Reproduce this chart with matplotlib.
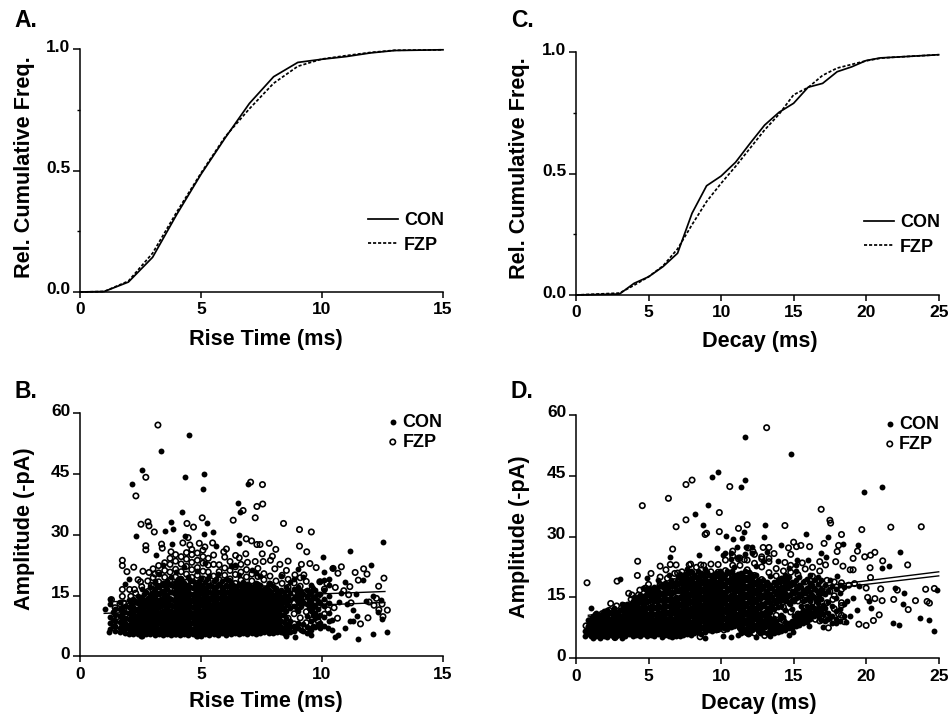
import matplotlib
matplotlib.use("Agg")
import matplotlib.pyplot as plt
from matplotlib.transforms import ScaledTranslation

plt.rcParams['font.family'] = ['Liberation Sans', 'DejaVu Sans']
plt.rcParams['font.weight'] = 'bold'

W, H = 949, 715

rise_x = [0, 1, 2, 3, 4, 5, 6, 7, 8, 9, 10, 11, 12, 13, 15]
rise_con = [0, .002, .041, .143, .32, .485, .635, .777, .887, .946, .959, .97, .985, .995, .998]
rise_fzp = [0, .002, .045, .16, .33, .49, .64, .755, .86, .93, .96, .974, .987, .996, .998]

decay_x = [0, 3, 4, 5, 6, 7, 8, 9, 10, 11, 12, 13, 14, 15, 16, 17, 18, 19, 20, 21, 22, 25]
decay_con = [0, .004, .048, .075, .117, .172, .337, .45, .49, .547, .625, .70, .753, .79, .856, .872, .92, .94, .966, .977, .98, .99]
decay_fzp = [0, .008, .04, .075, .12, .19, .29, .385, .46, .53, .605, .68, .745, .825, .855, .905, .935, .95, .965, .976, .98, .99]

# Panel B, isolated points read one by one (rise ms, amplitude)
con_b_sparse = [(4.51,54.7),(3.36,50.7),(2.56,46),(2.13,42.5),(4.33,44.3),(5.12,44.9),(5.1,41.2),(6.94,42.5),
 (6.52,37.9),(6.63,35.7),(4.2,35.6),(3.77,33.2),(3.83,31.5),(3.5,31),(5.24,32.9),(2.31,29.7),(4.33,29.8),
 (5.12,30.2),(5.48,30.7),(6.55,30),(6.55,28),(3.8,27.8),(5.64,27.2),(3.12,25),(10.05,24.6),(11.17,26),
 (12.54,28.2),(12.04,22.5),(11.49,4.3),(12.12,5.4),(12.7,6.1),(10.53,4.7),(10.66,5.3),(10.94,6.9),(11.15,8.6),
 (10.1,20.9),(10.94,18.4),(1.03,11.6),(1.21,6.1),(2.52,5),(10.4,21.8),(11.4,15.3),(11.7,18.8),(12.1,15),
 (12.5,9.2),(12.3,11),(11.3,11.5),(11.05,13),(10.4,9),(10.25,7),(10.4,6.5),(9.55,5.2),(8.9,4.8),(8.5,5),
 (11.3,8.8),(11.45,10),(10.8,15.7),(10.3,17.7),(10.7,13.5),(11.8,13.6),(12.45,13.8)]
fzp_b_sparse = [(3.22,57.1),(2.72,44.2),(2.31,39.6),(7.05,43),(7.54,42.4),(7.55,37.6),(7.31,37),(6.74,36),(7.24,34.2),
 (6.33,33.6),(8.41,32.8),(9.07,31.3),(9.56,30.7),(9.07,27.2),(9.37,25.8),(9.5,22.9),(9.76,21.9),(5.05,34.2),
 (4.42,32.8),(4.69,31.9),(2.52,32.6),(2.81,33.2),(2.85,32.2),(3.07,30.7),(2.72,27.3),(2.72,26.3),(3.37,27.7),
 (3.4,26.7),(3.76,25.8),(1.75,23.7),(1.75,22.4),(2.22,22),(1.94,20.9),(4.25,28),(4.47,29.3),(4.54,27.5),(4.93,27.9),
 (5.16,27),(5.48,28),(5.94,25.8),(6.05,26.5),(6.87,29),(7.09,28.5),(7.31,27.6),(7.44,27.6),(7.82,27.9),(8.09,26.4),
 (7.53,25.3),(7.95,24.7),(6.85,25.3),(6.43,24.9),(6.58,24.3),(6.92,23.2),(7.24,23.4),(7.57,23.4),(7.87,23.7),(8.26,22.7),
 (8.6,23.5),(9.15,22.7),(8.05,21.6),(8.53,21.2),(8.88,20.1),(9.25,20.1),(9.91,18.4),(10.46,21.7),(10.8,22.1),(10.66,20.5),
 (11.15,17.2),(11.37,20.7),(11.72,21.6),(11.86,20.3),(12.34,17.3),(12.56,19.3),(12.25,14.3),(12.48,12.9),(12.7,11.4),
 (12.52,9.8),(11.9,9.5),(11.59,8),(10.64,9.4),(10.2,18),(10.55,17),(10.9,16.2),(11.1,15.2),(11.5,18.8),(11.95,13.4),
 (12.15,12.6),(12.35,11.5),(10.5,12),(10.25,11.5),(11.2,13.2),(1.3,14),(1.75,16.5),(1.75,14.8),(1.65,13),(2.1,14.8),
 (2.4,18.9),(2.6,21),(2.85,20.7),(3.1,20.3),(2.25,16.5),(2.5,18.4),(2.95,17.5),(1.45,12)]

# Panel B, dense cloud estimated by column (rise ms, amplitudes)
con_b_core = [(1.25,[6.8,8.2,9.6,12.8,14.2]),(1.45,[6.2,7.4,8.7,10.2,11.6]),(1.65,[5.9,7.1,8.4,9.9,11.7,13.3]),
 (1.85,[5.7,6.9,8.1,9.5,10.9,12.4,17.9]),(2.02,[5.5,6.7,7.8,9.2,10.6,12.1,13.8,19]),(2.2,[5.6,6.8,8,9.3,10.8,12.2,14.1]),
 (2.38,[5.4,6.5,7.7,9,10.3,11.7,13.2,15]),(2.55,[5,6.3,7.5,8.8,10.1,11.5,13,14.6,16.6]),(2.72,[5.6,6.8,8,9.4,10.8,12.3,13.9,15.8]),
 (2.9,[5.5,6.6,7.8,9.1,10.4,11.8,13.4,15.1,17]),(3.08,[5.3,6.4,7.6,8.9,10.2,11.6,13.1,14.8,16.5,18.7]),
 (3.25,[5.6,6.8,8.1,9.4,10.7,12.2,13.7,15.3,17.2,20.3]),(3.42,[5.2,6.3,7.5,8.7,10,11.3,12.8,14.4,16.1,18,22.6]),
 (3.6,[5.4,6.6,7.9,9.2,10.5,11.9,13.3,14.9,16.7,18.6]),(3.78,[5.2,6.2,7.4,8.6,9.9,11.2,12.6,14.2,15.8,17.6,19.5]),
 (3.95,[5.5,6.7,8,9.3,10.6,12,13.5,15,16.6,18.3,20.7]),(4.12,[5.2,6.3,7.5,8.8,10.1,11.4,12.9,14.4,16,17.8,19.4]),
 (4.3,[5.5,6.6,7.8,9.1,10.4,11.8,13.2,14.7,16.3,18.1,22]),(4.48,[5.2,6.4,7.6,8.9,10.2,11.5,13,14.5,16.1,17.7,19.7]),
 (4.65,[5.6,6.8,8.1,9.4,10.7,12.1,13.6,15.1,16.8,18.5]),(4.82,[5.3,6.4,7.7,9,10.3,11.7,13.1,14.6,16.2,17.9,21]),
 (5,[5.1,6.3,7.5,8.7,10,11.3,12.8,14.2,15.8,17.5,19.3]),(5.18,[5.6,6.8,8,9.2,10.5,11.9,13.4,15,16.6,18.4,23]),
 (5.35,[5.2,6.4,7.6,8.9,10.2,11.6,13,14.5,16,17.7,19.8]),(5.52,[5.6,6.7,8,9.3,10.6,12,13.5,15.1,16.7,18.6]),
 (5.7,[5.3,6.5,7.7,9,10.3,11.6,13,14.4,15.9,17.6,20.4]),(5.88,[5.7,6.9,8.1,9.4,10.7,12.1,13.5,15.1,16.8,18.5]),
 (6.05,[5.2,6.3,7.5,8.8,10.1,11.5,12.9,14.4,16,17.7,19.2]),(6.22,[5.5,6.7,7.9,9.2,10.5,11.9,13.4,14.9,16.5,18.3,22.4]),
 (6.4,[5.8,6.9,8.2,9.5,10.8,12.2,13.7,15.2,16.8,22.6]),(6.58,[5.4,6.6,7.8,9.1,10.4,11.7,13.1,14.6,16.2,17.9,20]),
 (6.75,[5.7,6.9,8.1,9.3,10.6,12,13.5,15,16.6,18.4]),(6.92,[5.5,6.7,8,9.3,10.6,11.9,13.3,14.7,16.3,17.8]),
 (7.1,[5.8,7,8.2,9.5,10.8,12.2,13.6,15.1,16.7,21.4]),(7.28,[5.6,6.8,8.1,9.4,10.7,12,13.4,14.8,16.4,18.1,20.6]),
 (7.45,[5.7,6.9,8.1,9.4,10.6,11.9,13.2,14.6,16.1,17.7,19.8]),(7.62,[5.9,7.1,8.3,9.6,10.9,12.2,13.6,15,16.5]),
 (7.8,[5.7,6.9,8.2,9.4,10.7,12,13.4,14.8,16.3,18.1]),(7.98,[5.8,7,8.3,9.6,10.9,12.3,13.7,15.2,17.3]),
 (8.15,[5.9,7.1,8.4,9.8,11.2,12.7,14.2,15.9]),(8.32,[6.1,7.3,8.7,10.1,11.6,13.1,14.7,16.4,19.8]),
 (8.5,[5.2,6.5,7.8,9.5,11.3,13.2,15,17.1]),(8.68,[6,7.2,8.8,11.9,13.8,15.7,18.3]),(8.85,[6.3,7.6,12.4,14.5,16.7,19]),
 (9.02,[6.9,8.3,11.1,13.3,15.2,17.2,21.6]),(9.2,[6.2,8,13.5,15.4,19.5]),(9.38,[5.8,7.3,9.9,12.8,14.6,16.3]),
 (9.55,[6.5,8.8,11.3,13.4,15.8,17.6]),(9.72,[7.3,9.4,10.6,12.6,14.4,16.4]),(9.9,[7,8.3,10.1,13.2,15.4,18.6]),
 (10.08,[7.4,9.8,12.5,14.1,16.3,18.8]),(10.3,[8.8,10.8,13.1,15,19.2])]
con_b_fill = [(1.35,[7.5,9,10.9]),(1.75,[6.4,7.8,9.1,10.5,12]),(2.1,[6.1,7.3,8.6,10,11.3,13]),(2.3,[6,7.2,8.5,9.7,11.4,13.5]),
 (2.47,[5.8,7,8.2,9.5,10.9,12.4,14]),(2.65,[5.7,6.9,8.2,9.5,10.8,12.2,13.7,15.3]),(2.82,[6.1,7.3,8.6,9.9,11.2,12.7,14.4]),
 (3,[5.9,7.1,8.4,9.7,11,12.5,14.1,15.9]),(3.17,[5.9,7,8.3,9.6,10.9,12.4,14,15.7,17.5]),(3.34,[5.8,7.1,8.4,9.7,11,12.5,14.1,15.8,17.6]),
 (3.52,[5.9,7,8.3,9.6,10.9,12.3,13.9,15.5,17.3]),(3.7,[5.9,7.2,8.5,9.8,11.2,12.7,14.2,15.9,17.8]),(3.87,[5.8,7.1,8.4,9.7,11,12.5,14,15.7,17.4]),
 (4.04,[5.9,7.1,8.4,9.7,11,12.4,14,15.6,17.2,19]),(4.21,[5.7,6.9,8.2,9.5,10.8,12.2,13.7,15.3,16.9,18.7]),(4.39,[5.9,7.1,8.4,9.7,11,12.5,14,15.6,17.2]),
 (4.56,[5.7,7,8.3,9.6,10.9,12.4,13.9,15.4,17.1,18.9]),(4.74,[5.8,7.1,8.4,9.7,11,12.5,14,15.6,17.4]),(4.91,[5.7,7,8.3,9.6,11,12.4,13.8,15.3,16.9,18.7]),
 (5.09,[5.8,7,8.3,9.6,10.9,12.4,13.9,15.4,17.1]),(5.26,[5.8,7.1,8.4,9.7,11.1,12.5,14,15.6,17.2,19]),(5.44,[5.9,7.2,8.5,9.8,11.2,12.7,14.1,15.7,17.4]),
 (5.61,[5.9,7.1,8.4,9.7,11.1,12.5,14,15.5,17.2,19]),(5.79,[6.1,7.3,8.6,9.9,11.3,12.8,14.3,15.9,17.5]),(5.96,[5.8,7,8.3,9.7,11.1,12.5,14,15.5,17.1]),
 (6.14,[5.9,7.1,8.4,9.7,11.1,12.5,14,15.6,17.3,18.9]),(6.31,[6.1,7.3,8.6,9.9,11.3,12.8,14.3,15.8,17.5]),(6.49,[6,7.2,8.5,9.8,11.2,12.7,14.2,15.7,17.3]),
 (6.66,[6.2,7.4,8.7,10,11.4,12.9,14.3,15.8,17.3]),(6.84,[6.1,7.3,8.6,9.9,11.3,12.7,14.2,15.7,17.3]),(7.01,[6.3,7.5,8.8,10.1,11.5,12.9,14.4,15.9,17.4]),
 (7.19,[6.2,7.4,8.7,10,11.4,12.8,14.3,15.8,17.4]),(7.36,[6.3,7.5,8.8,10.1,11.4,12.8,14.2,15.6,17.1]),(7.54,[6.4,7.6,8.9,10.2,11.5,12.9,14.3,15.8]),
 (7.71,[6.3,7.5,8.8,10.1,11.4,12.8,14.2,15.7,17.2]),(7.89,[6.4,7.6,8.9,10.2,11.6,13,14.5,16]),(8.06,[6.5,7.7,9,10.4,11.8,13.3,14.9,16.6]),
 (8.24,[6.7,8,9.3,10.7,12.2,13.8,15.4]),(8.41,[5.8,7,8.4,10.3,12,13.9,15.8]),(8.6,[6.6,8,12.6,14.4,16.3]),(8.95,[7.4,11.8,14,15.9]),(9.12,[6.5,12.4,14.4,16.2]),
 (9.47,[7,11.9,13.8,15.3]),(9.63,[7.6,10.1,12.1,14.7,16.6]),(9.82,[7.9,9.6,11.6,13.6,15.4])]
fzp_b_core = [(1.55,[7.6,9.8]),(1.8,[6.6,8.9,11.6,13.2]),(2.05,[7.3,9.5,12.5,16.5]),(2.3,[6.2,8.8,11.4,13.4,15.6]),
 (2.55,[7.2,9.4,12,14.3,17.2]),(2.8,[6.4,8.7,11.1,13.7,16,18.6]),(3.02,[7,9.6,12.4,15,17.3,19.4,21.6]),
 (3.25,[5.9,8.5,11,13.5,16.2,18.4,20.6,22.4]),(3.5,[7.3,9.9,12.6,15.2,17.7,19.5,21.2,23.1]),
 (3.72,[6.2,8.6,11.4,14,16.6,18.8,20.8,22.7,24.2]),(3.95,[5.5,7.9,10.5,13.1,15.7,17.9,19.6,21.5,23.5,25.1]),
 (4.18,[6.8,9.4,12,14.7,17,19,20.9,22.8,24.6]),(4.4,[5.6,8.2,10.9,13.5,16,18.3,20.3,22.2,24,25.6]),
 (4.62,[7.1,9.7,12.4,15,17.4,19.5,21.4,23.2,25.1,26.4]),(4.85,[5,7.8,10.4,13.1,15.7,18,20,21.9,23.7,25.5]),
 (5.08,[6.4,9.1,11.8,14.4,16.9,19.1,21,23,24.6,26.2]),(5.3,[5.6,8.3,11,13.7,16.2,18.5,20.8,22.5,24.2]),
 (5.52,[7.2,9.9,12.6,15.2,17.6,19.8,22.7,25]),(5.75,[5.9,8.6,11.4,14,16.6,18.9,20.9,22.6]),
 (5.98,[7.4,10.2,12.9,15.5,17.9,20,21.8,24.5]),(6.2,[6,8.8,11.5,14.2,16.8,19.1,21.2,23.4]),
 (6.42,[7.3,10,12.8,15.4,18,20.2,22.1]),(6.65,[5.8,8.5,11.2,13.9,16.5,18.8,20.8,22.7]),
 (6.88,[7,9.7,12.3,15,17.4,19.6,21.4]),(7.1,[6,8.7,11.4,14,16.4,18.6,20.3]),(7.35,[7.4,10.1,12.8,15.3,17.6,19.7,21.7]),
 (7.6,[6.3,9,11.6,14.2,16.7,18.9,20.4]),(7.85,[7.6,10.3,12.9,15.4,17.8,19.8]),(8.1,[6.5,9.1,11.8,14.3,16.6,18.6]),
 (8.35,[7.7,10.4,13.1,15.6,18,20]),(8.6,[6.8,9.4,12.1,14.5,17,19]),(8.85,[8,10.5,13.2,15.6,18.1]),
 (9.1,[7,9.5,12.2,14.8,17.3,19.4]),(9.35,[8.3,11,13.5,15.9,18.5]),(9.6,[9.1,11.8,14.3,16.8]),(9.85,[8.6,12.3,15]),(10.1,[10.4,13.5,16.6])]

# Panel D, isolated points read one by one (decay ms, amplitude)
con_d_sparse = [(11.63,54.4),(14.8,50.3),(9.8,45.8),(9.4,44.7),(11.63,44),(11.35,42.2),(19.83,40.9),(21.07,42.1),(9.1,37.8),
 (8.2,35.5),(8.78,32.8),(13.05,32.9),(11.6,31.2),(10.34,30.2),(10.85,29.3),(11.42,29.6),(12.94,29.9),(15.85,30.5),
 (17.4,29.8),(18.43,28.2),(19.44,27.8),(22.3,26.3),(21.6,22.8),(21.1,22.3),(22,17.2),(22.6,16),(22.56,13.4),(21.87,8.6),
 (22.24,8.2),(23.7,10),(24.36,9.4),(24.66,6.65),(24.9,16.7),(19.35,11.9),(1.03,12.5),(3.03,19.5),(8.5,25.4),(6.48,24.9),
 (9.7,27.1),(10.27,25.9),(14.66,5.7),(16.08,8),(17,7.6),(14.95,6.5),(17.95,8.7),(18.6,8.9),(18.9,10.5),(18.7,14),
 (19.1,14.9),(17.2,25),(16.9,26),(16,24.3),(15.2,24.2),(14.1,27.8),(12.1,27.5),(11.7,27.5),(11.1,27.4),(20.2,14),(20.3,12.5),
 (18,20.2),(17.5,19.2),(19.5,17.8)]
fzp_d_sparse = [(13.14,56.8),(4.57,37.6),(6.37,39.4),(7.58,42.8),(8,43.9),(10.6,42.3),(6.9,32.4),(7.58,34.1),(9.88,35.9),
 (11.2,32),(11.8,32.9),(8.9,30.5),(9,30.8),(9.88,31.2),(14.4,32.7),(16.9,36.7),(17.5,34),(17.55,33.3),(19.7,31.7),(21.7,32.3),
 (23.8,32.4),(18.3,30.5),(.76,18.6),(2.83,19),(4.25,23.9),(6.66,26.9),(4.23,20.4),(5.17,20.9),(3.63,16),(3.86,15.6),(2.39,13.5),
 (.69,8),(2.69,5.1),(8.55,5.3),(22.86,23),(21.14,24),(20.6,26.1),(20.3,25.4),(19.9,25),(19.4,26.4),(19.1,24.6),(18.9,21.8),
 (19.1,21.8),(20.27,22.3),(20.3,19.9),(21,17.1),(22.15,16.8),(24.1,17),(24.7,17.2),(24.2,14),(24.36,13.6),(23.4,14.2),(22.9,12),
 (21.9,14.5),(21.1,14.2),(20.6,14.7),(20.1,15),(20,17.3),(20.9,10.7),(20.5,9.3),(20,8.1),(19.5,8.4),(17.4,7.5),(18.5,9),
 (15,28.6),(15.5,27.8),(15.2,27.5),(14.65,27.2),(14.8,25.6),(16.1,27.5),(17.1,28.3),(18.1,27.8),(18,26.3),(17.9,23.8),(18.4,22.7),
 (17.2,23),(16.8,23.8),(15.6,23.5),(14.4,23.6),(13.65,25.8),(13.3,24.6),(13.3,27.3),(12.9,27.3),(11.85,27.2),(12.2,26.3),(12.8,25),
 (10.8,26.4),(11.2,24.5),(11.6,24.3),(8.6,23),(7.9,23.2),(6.9,23),(6.5,23.1),(6.2,21.8),(5.8,22.7),(7,21),(5.8,18.2),(5,18.2),
 (4.4,16.8),(16.5,9.6),(16.9,10.2),(17.3,10.8),(18.1,10.9),(18.3,13),(17.7,14.5),(17.1,12),(17.5,16.5),(18.8,18),(19.2,18.4),
 (11.9,6),(12.3,6.2),(13,5.6),(10.2,7),(14.9,7.6)]

# Panel D, dense cloud estimated by column (decay ms, amplitudes)
con_d_core = [(.65,[5.4,6.8]),(.9,[5.9,7.2,8.6]),(1.15,[5,6.3,7.6,9,10.3]),(1.4,[5.4,6.6,7.9,9.3,11.2]),(1.65,[5.1,6.4,7.7,9,10.4]),
 (1.9,[5.6,6.9,8.2,9.6,11.6]),(2.15,[5.2,6.5,7.8,9.1,10.5,12]),(2.4,[5.7,7,8.3,9.7,11.1]),(2.65,[5.3,6.6,7.9,9.3,10.7,12.4]),
 (2.9,[5.8,7.1,8.4,9.8,11.3]),(3.15,[5.1,6.4,7.7,9.1,10.5,12.2,13.3]),(3.4,[5.6,6.9,8.2,9.6,11,12.5]),(3.65,[5.9,7.2,8.5,9.9,11.4,13]),
 (3.9,[5.4,6.7,8,9.4,10.8,12.3,14]),(4.15,[5.8,7.1,8.4,9.8,11.2,12.8,14.5]),(4.4,[5.5,6.8,8.1,9.5,10.9,12.4,14,15.7]),
 (4.65,[5.9,7.2,8.5,9.9,11.4,13,14.6,17.4]),(4.9,[5.4,6.7,8,9.4,10.9,12.5,14.2,16,19.8]),(5.15,[5.8,7.1,8.5,9.9,11.4,13,14.7,16.4]),
 (5.4,[5.4,6.7,8.1,9.5,11,12.6,14.3,16,17.5]),(5.65,[5.9,7.2,8.6,10,11.5,13.1,14.8,16.5,19.4]),(5.9,[5.3,6.7,8.1,9.6,11.1,12.7,14.4,16.2,18]),
 (6.15,[5.7,7.1,8.5,10,11.6,13.2,14.9,16.7,18.5]),(6.4,[5.4,6.8,8.3,9.8,11.4,13,14.7,16.5,18.3,20.4]),(6.65,[5.2,6.7,8.2,9.7,11.3,12.9,14.6,16.4,18.2]),
 (6.9,[5.6,7.1,8.6,10.2,11.8,13.5,15.2,17,18.9]),(7.15,[5.4,6.9,8.5,10.1,11.7,13.4,15.2,17,18.9,20.8]),(7.4,[5.8,7.3,8.9,10.5,12.2,13.9,15.7,17.5,19.4]),
 (7.65,[6,7.6,9.2,10.8,12.5,14.2,16,17.9,19.8,22]),(7.9,[5.8,7.4,9,10.7,12.4,14.2,16,17.9,19.9,21.6]),(8.15,[6.2,7.8,9.5,11.2,13,14.8,16.7,18.6,20.6]),
 (8.4,[6.5,8.2,9.9,11.7,13.5,15.4,17.3,19.3,21.4]),(8.65,[6.1,7.8,9.6,11.4,13.2,15.1,17,19,21.1]),(8.9,[5,6.6,8.4,10.2,12,13.9,15.8,17.8,19.8,21.9]),
 (9.15,[6.9,8.7,10.5,12.4,14.3,16.3,18.3,20.4]),(9.4,[6.7,8.6,10.5,12.4,14.4,16.4,18.4,20.5]),(9.65,[7,8.9,10.8,12.8,14.8,16.8,18.9,21]),
 (9.9,[7.4,9.3,11.2,13.2,15.2,17.3,19.4,21.6]),(10.15,[5.6,7.7,9.6,11.6,13.6,15.6,17.7,19.8,25.5]),(10.4,[7.2,9.1,11.1,13.1,15.2,17.3,19.4,21.5]),
 (10.65,[5.2,7.6,9.6,11.6,13.6,15.7,17.8,19.9,24.5,26]),(10.9,[7.9,9.9,11.9,14,16.1,18.2,20.4,22.5]),(11.15,[5.7,8.2,10.2,12.3,14.4,16.5,18.6,20.8,25]),
 (11.4,[6.3,8.4,10.4,12.5,14.6,16.7,18.9,21]),(11.65,[6.6,8.8,10.9,13,15.1,17.2,19.4,21.6,25.7]),(11.9,[6.2,8.3,10.4,12.5,14.6,16.8,19,21.2]),
 (12.15,[6.9,9,11.1,13.2,15.4,17.6,19.8,26]),(12.4,[5.2,7.5,9.6,11.7,13.9,16.1,18.3,20.5,22.8]),(12.65,[6.2,8.2,10.2,12.3,14.5,16.7,18.9]),
 (12.9,[6.6,8.6,10.7,12.8,15,17.2,19.4,24]),(13.15,[6.3,8.3,10.3,12.3,14.4,16.6,18.8,26.3]),(13.4,[5.4,7.1,9.2,11.4,13.6,15.8,18,20.3]),
 (13.65,[6.2,7.9,10,12.2,14.4,16.6,18.9]),(13.9,[6.4,8.3,12.6,14.8,17,19.2,24]),(14.15,[6.7,8,10.6,13,15.3,17.5,19.8]),
 (14.4,[7,9,12,14,16.2,18.3,20.5]),(14.65,[7.4,8.8,13.5,15.6,17.8,20,22.2]),(14.9,[7.5,9.2,12.2,14.4,16.6,18.8]),
 (15.15,[8,9.6,14.8,17,19.2,21.4,23]),(15.4,[8.3,10,15.8,18,20]),(15.65,[8.6,10.3,12,14,16.6,18.8]),(15.9,[8.9,11,13,17.3,19.5]),
 (16.15,[9.6,11.4,14,16.4,18.5,20.4]),(16.4,[10.4,12.4,15,17.4,19.2]),(16.65,[10.8,13.5,16.2,18.2,20]),(16.9,[9.4,11.8,14.6,17,19.4]),
 (17.15,[9.2,12.5,15.8,18]),(17.4,[9.8,11.2,13.8,16.6]),(17.65,[8.6,10.4,12.8,17.8]),(17.9,[9.6,11.6,14.8,17]),(18.2,[9.2,12.2,16,18]),(18.5,[10.4,13.4,17.5])]
con_d_fill = [(.8,[6.2,7.6,9.4]),(1.03,[5.6,7,8.3,9.7]),(1.28,[5.7,7,8.3,9.6,10.8]),(1.53,[6,7.3,8.6,9.9]),(1.78,[5.8,7.1,8.4,9.8,11]),
 (2.03,[6,7.3,8.6,9.9,11.2]),(2.28,[5.9,7.2,8.5,9.8,11.3]),(2.53,[6.1,7.4,8.7,10,11.5]),(2.78,[6,7.3,8.6,10,11.5]),(3.03,[6.3,7.6,8.9,10.3,11.8]),
 (3.28,[6,7.3,8.6,10,11.5,13]),(3.53,[6.3,7.6,8.9,10.3,11.8,13.4]),(3.78,[6.1,7.4,8.8,10.2,11.7,13.3]),(4.03,[6.2,7.5,8.9,10.3,11.8,13.4,15]),
 (4.28,[6.1,7.5,8.9,10.4,11.9,13.5,15.2]),(4.53,[6.2,7.6,9,10.5,12,13.6,15.3]),(4.78,[6.1,7.5,9,10.5,12.1,13.7,15.4,17]),(5.03,[6.3,7.7,9.2,10.7,12.3,14,15.7,17.4]),
 (5.28,[6.2,7.7,9.2,10.8,12.4,14,15.7,17.1]),(5.53,[6.2,7.7,9.2,10.8,12.4,14.1,15.7,17.2]),(5.78,[6.4,7.9,9.4,11,12.6,14.3,16,17.7]),(6.03,[6.1,7.6,9.1,10.7,12.3,14,15.7,17.5]),
 (6.28,[6.4,7.9,9.5,11.1,12.8,14.5,16.2,17.9]),(6.53,[6.1,7.6,9.2,10.8,12.5,14.2,15.9,17.7,19.4]),(6.78,[6.3,7.9,9.5,11.1,12.8,14.5,16.3,18.1]),(7.03,[6.3,7.9,9.5,11.2,12.9,14.7,16.5,18.3,20]),
 (7.28,[6.4,8,9.6,11.3,13,14.8,16.6,18.4,20.2]),(7.53,[6.7,8.3,10,11.7,13.4,15.2,17,18.9,20.8]),(7.78,[6.8,8.4,10.1,11.8,13.6,15.4,17.2,19.1,21]),(8.03,[6.9,8.6,10.3,12.1,13.9,15.7,17.6,19.5,21.2]),
 (8.28,[7.1,8.8,10.6,12.4,14.2,16.1,18,20]),(8.53,[7.2,8.9,10.7,12.5,14.4,16.3,18.2,20.2]),(8.78,[7.4,9.2,11,12.9,14.8,16.7,18.7,20.7]),(9.03,[7.6,9.4,11.3,13.2,15.1,17.1,19.1,21.2]),
 (9.28,[7.7,9.6,11.5,13.4,15.4,17.4,19.4]),(9.53,[7.9,9.8,11.7,13.7,15.7,17.7,19.8]),(9.78,[8.2,10.1,12,14,16,18.1,20.2]),(10.03,[8.5,10.4,12.4,14.4,16.4,18.5,20.6]),
 (10.28,[8.1,10,12,14,16.1,18.2,20.4]),(10.53,[8.5,10.5,12.5,14.6,16.7,18.8,21]),(10.78,[8.8,10.8,12.9,15,17.1,19.2,21.4]),(11.03,[9,11,13.1,15.2,17.3,19.5]),
 (11.28,[7.3,9.3,11.3,13.4,15.5,17.6,19.8]),(11.53,[7.5,9.7,11.8,13.9,16,18.1,20.3]),(11.78,[7.4,9.4,11.5,13.6,15.7,17.9,20.1]),(12.03,[7.9,10,12.1,14.2,16.3,18.5,20.7]),
 (12.28,[8.2,10.3,12.4,14.5,16.7,18.9]),(12.53,[6.9,8.6,10.7,12.8,15,17.2,19.4]),(12.78,[7.2,9.2,11.2,13.4,15.6,17.8]),(13.03,[7.6,9.5,11.5,13.7,15.9,18.1]),
 (13.28,[6.4,8.3,10.2,12.5,14.9,17.2]),(13.53,[6.9,8.8,13,15.2,17.4]),(13.78,[7.3,9.2,13.5,15.8,18.1]),(14.03,[7.5,9.6,14,16.4,18.7]),(14.28,[7.8,10.1,14.7,17,19.3]),
 (14.53,[8.1,15,17.2,19.4]),(14.78,[8.4,13.3,15.6,18]),(15.03,[8.7,10.4,14,16.2,18.4]),(15.28,[9,10.8,15,17.2]),(15.53,[9.4,11.2,13,15.3,17.6]),(15.78,[9.7,11.6,14.4,16.1]),
 (16.03,[10.2,12.2,15.2,17.6]),(16.28,[10.8,13,15.6,18]),(16.53,[11.4,14,16.8]),(16.78,[10.2,12.5,15.2]),(17.03,[10.8,13.2,16])]
fzp_d_core = [(.9,[6.2,7.8]),(1.3,[6.9,8.4,10]),(1.8,[6,7.6,9.4,11]),(2.3,[6.4,8.2,10,11.8]),(2.8,[5.6,7.5,9.3,11.2,12.9]),
 (3.3,[6.2,8.1,10,12,13]),(3.8,[6.7,8.7,10.7,12.6,14.5]),(4.3,[6,8,10.1,12.1,14.3,15.6]),(4.8,[6.6,8.7,10.9,13.1,15.2,17.3]),
 (5.3,[6.1,8.2,10.4,12.6,14.8,16.9]),(5.8,[6.8,9,11.3,13.6,15.8,17.9,20]),(6.3,[6.2,8.5,10.8,13.1,15.4,17.7,19.7]),
 (6.8,[7,9.4,11.8,14.2,16.6,18.9,20.9]),(7.3,[6.5,8.9,11.4,13.9,16.4,18.9,21.3]),(7.8,[6.1,8.6,11.2,13.8,16.3,18.8,21.1,23]),
 (8.3,[7.3,9.9,12.5,15.1,17.7,20.2,22.4]),(8.8,[6.8,9.4,12.1,14.8,17.5,20.1,22.9]),(9.3,[7.7,10.4,13.2,16,18.7,21.3,23.2]),
 (9.8,[7.1,9.9,12.7,15.6,18.4,21.2,23.1]),(10.3,[7.4,10.3,13.2,16.1,19,21.6,24.2]),(10.8,[8,11,14,17,20,22.9,25.2]),
 (11.3,[7.6,10.6,13.7,16.8,19.9,22.9,24.7]),(11.8,[6.3,9.3,12.4,15.6,18.7,21.8,24.2]),(12.3,[7.7,10.8,14,17.2,20.4,23.4,25.6]),
 (12.8,[6.7,9.8,13,16.2,19.4,22.5,24.5]),(13.3,[8.3,11.5,14.7,17.9,21.1,23.8]),(13.8,[6.9,10.6,13.9,17.1,20.3,22.1]),
 (14.3,[9.3,12.6,15.9,19.2,21.5]),(14.8,[11.4,14.7,18,21.2,22.9]),(15.3,[8.5,10.9,14.1,17.4,20.6]),(15.8,[9.8,12.4,15.6,18.8,22]),
 (16.3,[10.9,13.8,17,20.2,22.4]),(16.8,[9.2,12.6,15.9,19,21.5]),(17.3,[10.4,13.7,17,19.2]),(17.8,[9.3,12.2,15.4,18.8]),(18.3,[10.6,13.7,17,18.6])]

# Regression lines (x ends, y ends)
reg_b_x = [1.4, 12.6]
reg_b_upper = [13.5, 16.0]
reg_b_x2 = [1.0, 12.6]
reg_b_lower = [10.6, 13.3]
reg_d_x = [.85, 25]
reg_d_upper = [10.6, 21.3]
reg_d_lower = [10.2, 20.3]

panels = {
    'A': dict(left=80, right=443, top=49.3, bottom=292),
    'B': dict(left=80, right=443, top=413.3, bottom=656.3),
    'C': dict(left=576, right=938.7, top=52.3, bottom=295),
    'D': dict(left=576, right=938.7, top=414.7, bottom=658.3),
}


def flat(sparse, *cores):
    xs = [p[0] for p in sparse]
    ys = [p[1] for p in sparse]
    for core in cores:
        xs += [c[0] for c in core for _ in c[1]]
        ys += [v for c in core for v in c[1]]
    return xs, ys


fig = plt.figure(figsize=(W / 100, H / 100), dpi=100)


def make_axes(key, xmax, xticks, ymax, yticks, xlabel, ylabel, xl_px, yl_px, letter_px):
    p = panels[key]
    ax = fig.add_axes([p['left'] / W, 1 - p['bottom'] / H, (p['right'] - p['left']) / W, (p['bottom'] - p['top']) / H])
    ax.set_xlim(0, xmax)
    ax.set_ylim(0, ymax)
    ax.spines[['top', 'right']].set_visible(False)
    ax.spines[['left', 'bottom']].set_linewidth(1.1)
    ax.patch.set_alpha(0)
    ax.set_xticks(xticks)
    ax.set_yticks(yticks)
    ax.tick_params(axis='x', length=4.5, width=1.1, pad=3, labelsize=12.5)
    ax.tick_params(axis='y', length=5, width=1.1, pad=2, labelsize=12.5)
    for lab in ax.get_yticklabels():
        lab.set_transform(lab.get_transform() + ScaledTranslation(0, 3.5 / 100, fig.dpi_scale_trans))
    ax.set_xlabel(xlabel, fontsize=15.6, fontweight='bold')
    ax.set_ylabel(ylabel, fontsize=15.6, fontweight='bold')
    ax.xaxis.set_label_coords(xl_px[0] / W, 1 - xl_px[1] / H, transform=fig.transFigure)
    ax.xaxis.label.set_va('center')
    ax.yaxis.set_label_coords(yl_px[0] / W, 1 - yl_px[1] / H, transform=fig.transFigure)
    ax.yaxis.label.set_va('center')
    fig.text(letter_px[0] / W, 1 - letter_px[1] / H, key + '.', fontsize=16.5, fontweight='bold', ha='left', va='baseline')
    return ax


def line_panel(ax, x, con, fzp, legend_px):
    ax.plot(x, con, color='black', lw=1.25, label='CON', clip_on=False)
    ax.plot(x, fzp, color='black', lw=1.25, ls=(0, (1.8, 1.1)), label='FZP', clip_on=False)
    ax.legend(loc='upper left', bbox_to_anchor=(legend_px[0] / W, 1 - legend_px[1] / H), bbox_transform=fig.transFigure,
              frameon=False, fontsize=13, borderpad=0, borderaxespad=0, handlelength=1.65, handletextpad=0.35, labelspacing=0.42)


def scatter_panel(ax, con, fzp, legend_px):
    ax.scatter(fzp[0], fzp[1], s=15, facecolors='none', edgecolors='black', linewidths=1.2, label='FZP', clip_on=False)
    ax.scatter(con[0], con[1], s=18, color='black', linewidths=0, label='CON', clip_on=False)
    h, l = ax.get_legend_handles_labels()
    ax.legend(h[::-1], l[::-1], loc='upper left', bbox_to_anchor=(legend_px[0] / W, 1 - legend_px[1] / H), bbox_transform=fig.transFigure,
              frameon=False, fontsize=13, borderpad=0, borderaxespad=0, handlelength=0.75, handletextpad=0.15, labelspacing=0.15, scatterpoints=1)


axA = make_axes('A', 15, [0, 5, 10, 15], 1, [0, .5, 1], 'Rise Time (ms)', 'Rel. Cumulative Freq.', (266, 339), (25, 167), (14, 27))
axA.set_yticks([.25, .75], minor=True)
axA.tick_params(axis='y', which='minor', length=2, width=1)
axA.set_yticklabels(['0.0', '0.5', '1.0'])
line_panel(axA, rise_x, rise_con, rise_fzp, (368, 212))

axB = make_axes('B', 15, [0, 5, 10, 15], 60, [0, 15, 30, 45, 60], 'Rise Time (ms)', 'Amplitude (-pA)', (266, 701), (25, 529), (14, 398))
scatter_panel(axB, flat(con_b_sparse, con_b_core, con_b_fill), flat(fzp_b_sparse, fzp_b_core), (386, 414))
axB.plot(reg_b_x, reg_b_upper, color='black', lw=1)
axB.plot(reg_b_x2, reg_b_lower, color='black', lw=1)

axC = make_axes('C', 25, [0, 5, 10, 15, 20, 25], 1, [0, .5, 1], 'Decay (ms)', 'Rel. Cumulative Freq.', (760, 341), (520, 168), (511, 27))
axC.set_yticks([.25, .75], minor=True)
axC.tick_params(axis='y', which='minor', length=2, width=1)
axC.set_yticklabels(['0.0', '0.5', '1.0'])
line_panel(axC, decay_x, decay_con, decay_fzp, (864, 214))

axD = make_axes('D', 25, [0, 5, 10, 15, 20, 25], 60, [0, 15, 30, 45, 60], 'Decay (ms)', 'Amplitude (-pA)', (759, 703), (520, 537), (511, 398))
scatter_panel(axD, flat(con_d_sparse, con_d_core, con_d_fill), flat(fzp_d_sparse, fzp_d_core), (883, 416))
axD.plot(reg_d_x, reg_d_upper, color='black', lw=1, clip_on=False)
axD.plot(reg_d_x, reg_d_lower, color='black', lw=1, clip_on=False)

fig.savefig('out.png', dpi=100)
